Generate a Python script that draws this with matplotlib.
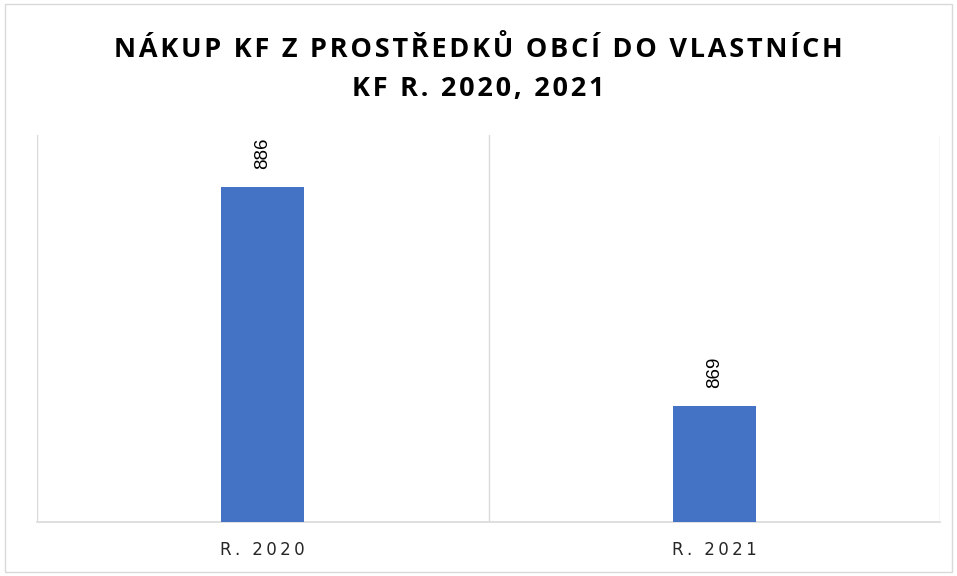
import matplotlib.pyplot as plt
from matplotlib.patches import Rectangle

CATEGORIES = ["R. 2020", "R. 2021"]
VALUES = [886, 869]
TITLE = "NÁKUP KF Z PROSTŘEDKŮ OBCÍ DO VLASTNÍCH\nKF R. 2020, 2021"

BAR_COLOR = "#4472C4"
GRID_COLOR = "#D9D9D9"


def spaced(text: str, sep: str = "\u200a") -> str:
    # poor man's letter spacing
    return "\n".join(sep.join(line) for line in text.split("\n"))


def main() -> None:
    fig = plt.figure(figsize=(9.57, 5.76), dpi=100)
    fig.patches.append(
        Rectangle((5 / 957, 4 / 576), 1 - 10 / 957, 1 - 8 / 576, transform=fig.transFigure,
                  fill=False, edgecolor=GRID_COLOR, linewidth=1)
    )
    ax = fig.add_axes([37 / 957, 1 - 522 / 576, 903 / 957, 387 / 576])

    x = list(range(len(CATEGORIES)))
    bars = ax.bar(x, VALUES, width=0.184, color=BAR_COLOR, zorder=3)
    ax.set_xlim(-0.5, len(CATEGORIES) - 0.5)
    ax.set_ylim(860, 890)

    for b in [i - 0.5 for i in range(len(CATEGORIES) + 1)]:
        ax.axvline(b, color=GRID_COLOR, linewidth=1, zorder=1)

    for rect, val in zip(bars, VALUES):
        ax.annotate(str(val), (rect.get_x() + rect.get_width() / 2, rect.get_height()),
                    xytext=(0, 13), textcoords="offset points", rotation=90,
                    ha="center", va="bottom", fontsize=13.5, color="#000000",
                    family="Liberation Sans")

    for side in ["top", "left", "right"]:
        ax.spines[side].set_visible(False)
    ax.spines["bottom"].set_color(GRID_COLOR)
    ax.spines["bottom"].set_linewidth(1.2)
    ax.set_yticks([])
    ax.set_xticks(x)
    ax.set_xticklabels([spaced(c, "\u2009") for c in CATEGORIES], fontsize=12,
                       color="#262626", family="DejaVu Sans")
    ax.tick_params(axis="x", length=0, pad=14)

    fig.text(0.5, 1 - 69 / 576, spaced(TITLE), ha="center", va="center", fontsize=19.5,
             fontweight="bold", family="Open Sans", linespacing=1.65, color="#000000")

    fig.savefig("out.png", dpi=100)
    plt.close(fig)


if __name__ == "__main__":
    main()
